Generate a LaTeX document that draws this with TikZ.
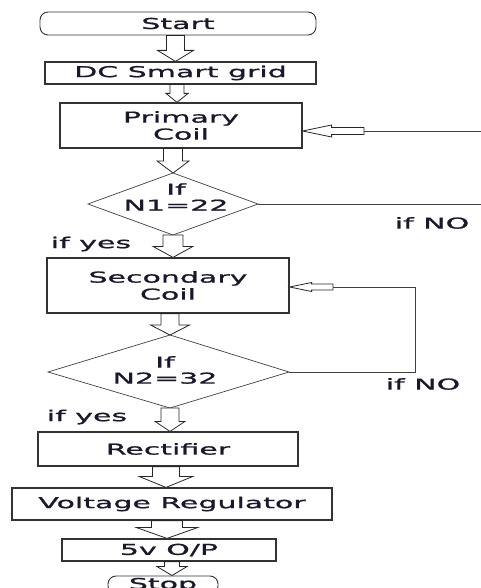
\documentclass[tikz,border=0pt]{standalone}
\usepackage{fontspec}
\usetikzlibrary{calc}
\newfontfamily\flowfont[FakeStretch=2,FakeBold=1.2]{DejaVu Sans}
\definecolor{flowtext}{RGB}{25,25,45}
\tikzset{box/.style={draw=black!80,line width=1.2pt,inner sep=0pt,align=center,
  text=flowtext,font=\flowfont\fontsize{15}{17}\selectfont},
 terminal/.style={box,rounded corners=8pt,line width=0.9pt},
 decision/.style={draw=black!75,line width=0.7pt},
 tag/.style={inner sep=0pt,align=center,text=flowtext,font=\flowfont\fontsize{15}{16}\selectfont},
 blockdown/.style n args={3}{draw=black!85,line width=0.8pt,fill=white,
  to path={let \p1=(\tikztostart),\p2=(\tikztotarget) in
   (\x2-#1pt,\y1)--(\x2-#1pt,\y2+#3pt)--(\x2-#2pt,\y2+#3pt)--(\x2,\y2)
   --(\x2+#2pt,\y2+#3pt)--(\x2+#1pt,\y2+#3pt)--(\x2+#1pt,\y1)--cycle}},
 blockleft/.style n args={3}{draw=black!85,line width=0.8pt,fill=white,
  to path={let \p1=(\tikztostart),\p2=(\tikztotarget) in
   (\x1,\y2+#1pt)--(\x2+#3pt,\y2+#1pt)--(\x2+#3pt,\y2+#2pt)--(\x2,\y2)
   --(\x2+#3pt,\y2-#2pt)--(\x2+#3pt,\y2-#1pt)--(\x1,\y2-#1pt)--cycle}}}
\begin{document}
\begin{tikzpicture}[x=1pt,y=-1pt]
\useasboundingbox (0,0) rectangle (481,588);
% process boxes
\node[terminal,minimum width=276pt,minimum height=23pt] (start) at (178,23.5) {Start};
\node[box,minimum width=271pt,minimum height=22pt] (dc) at (180.5,73) {DC Smart grid};
\node[box,minimum width=242pt,minimum height=45pt] (primary) at (181,125.5) {Primary\\Coil};
\node[box,minimum width=242pt,minimum height=55pt] (secondary) at (168,285.5) {Secondary\\Coil};
\node[box,minimum width=260pt,minimum height=34pt] (rectifier) at (168,449) {Rectifier};
\node[box,minimum width=320pt,minimum height=32pt] (vr) at (172,504) {Voltage Regulator};
\node[box,minimum width=214pt,minimum height=22pt] (out) at (169,550) {5v O/P};
\node[terminal,minimum width=110pt,minimum height=18pt] (stop) at (163,585) {Stop};
% decisions
\draw[decision] (173,173) coordinate (n1t) -- (258,204) coordinate (n1r)
  -- (173,235) coordinate (n1b) -- (88,204) coordinate (n1l) -- cycle;
\node[tag] (q1) at (176,197) {If\\N1=22};
\draw[decision] (170,335) coordinate (n2t) -- (289,372) coordinate (n2r)
  -- (170,408) coordinate (n2b) -- (48,372) coordinate (n2l) -- cycle;
\node[tag] (q2) at (165,370) {If\\N2=32};
\node[tag] (no1) at (432,223) {if NO};
\node[tag] (yes1) at (91,244) {if yes};
\node[tag] (no2) at (423,384) {if NO};
\node[tag] (yes2) at (87,417) {if yes};
% main flow
\draw[blockdown={9}{18}{11}] (start.south) to ([xshift=-5pt]dc.north);
\draw[blockdown={7}{11}{9}] (dc.south) to ([xshift=-4pt]primary.north);
\draw[blockdown={9.5}{16}{12}] (primary.south) to (n1t);
\draw[blockdown={10}{20}{11}] (n1b) to ([xshift=5pt]secondary.north);
\draw[blockdown={9}{19.5}{10}] (secondary.south) to (n2t);
\draw[blockdown={9}{15}{10}] (n2b) to ([xshift=2pt]rectifier.north);
\draw[blockdown={13.5}{27}{11}] (rectifier.south) to ([xshift=-6pt]vr.north);
\draw[blockdown={15.5}{31}{11}] (vr.south) to ([xshift=-2pt]out.north);
\draw[blockdown={7.5}{15}{9}] (out.south) to ([xshift=9pt]stop.north);
% loops back
\coordinate (fb1) at (364,131);
\coordinate (fb2) at (333,287);
\draw[decision] (n1r) -- (490,204) |- (fb1);
\draw[decision] (n2r) -| (415,287) -- (fb2);
\draw[blockleft={3.5}{6}{29}] (fb1) to (primary.east|-fb1);
\draw[blockleft={3}{4.5}{22}] (fb2) to (secondary.east|-fb2);
\end{tikzpicture}
\end{document}
